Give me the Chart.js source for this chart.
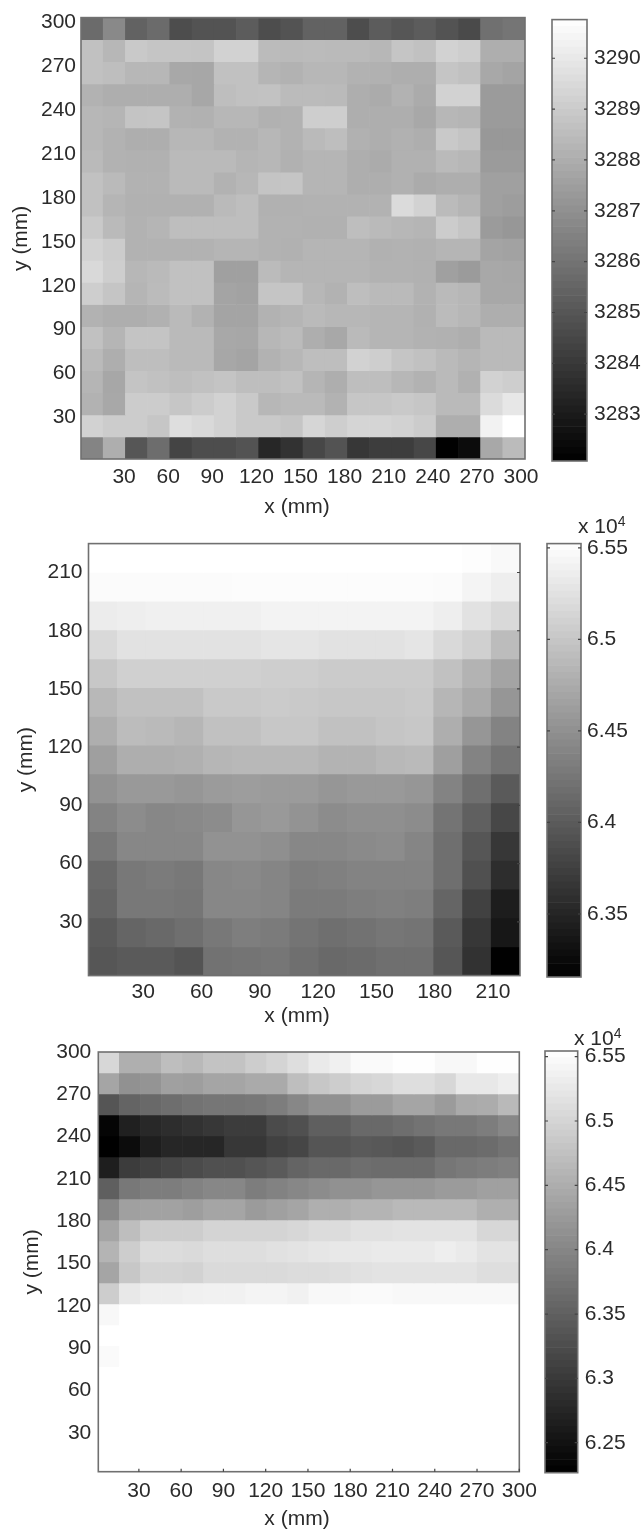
<!DOCTYPE html>
<html>
<head>
<meta charset="utf-8">
<title>Heat maps</title>
<script src="https://cdn.jsdelivr.net/npm/chart.js@4/dist/chart.umd.min.js"></script>
<style>
  html, body { margin: 0; padding: 0; background: #fff; }
  #page { position: relative; width: 644px; height: 1530px; overflow: hidden; }
  canvas { position: absolute; filter: blur(0.5px); }
  .note { position: absolute; font: 21px "Liberation Sans", Arial, sans-serif; color: #2b2b2b; line-height: 24px; white-space: nowrap; filter: blur(0.4px); }
  .note sup { font-size: 14px; line-height: 0; vertical-align: 7px; }
  .xtitle { transform: translateX(-50%); }
</style>
</head>
<body>
<div id="page">
  <canvas id="map1" width="545" height="525" style="left:0;top:0"></canvas>
  <canvas id="bar1" width="104" height="525" style="left:540px;top:0"></canvas>
  <canvas id="map2" width="545" height="505" style="left:0;top:525px"></canvas>
  <canvas id="bar2" width="104" height="505" style="left:540px;top:525px"></canvas>
  <canvas id="map3" width="545" height="500" style="left:0;top:1030px"></canvas>
  <canvas id="bar3" width="104" height="500" style="left:540px;top:1030px"></canvas>
  <div class="note xtitle" style="left:297px;top:494px">x (mm)</div>
  <div class="note xtitle" style="left:297px;top:1003px">x (mm)</div>
  <div class="note xtitle" style="left:297px;top:1506px">x (mm)</div>
  <div class="note" style="left:578px;top:514px">x 10<sup>4</sup></div>
  <div class="note" style="left:574px;top:1026px">x 10<sup>4</sup></div>
</div>
<script>
const xTicks1 = [30, 60, 90, 120, 150, 180, 210, 240, 270, 300];
const yTicks1 = [30, 60, 90, 120, 150, 180, 210, 240, 270, 300];
const barTicks1 = [3283, 3284, 3285, 3286, 3287, 3288, 3289, 3290];

const xTicks2 = [30, 60, 90, 120, 150, 180, 210];
const yTicks2 = [30, 60, 90, 120, 150, 180, 210];
const barTicks2 = [6.35, 6.4, 6.45, 6.5, 6.55];

const xTicks3 = [30, 60, 90, 120, 150, 180, 210, 240, 270, 300];
const yTicks3 = [30, 60, 90, 120, 150, 180, 210, 240, 270, 300];
const barTicks3 = [6.25, 6.3, 6.35, 6.4, 6.45, 6.5, 6.55];

// rows run from the top of the plot down
const cells1 = [
  [3285.3,3286.35,3285.0,3285.3,3284.3,3284.5,3284.5,3284.8,3284.3,3284.5,3285.0,3285.0,3284.3,3284.8,3284.6,3284.8,3284.5,3284.2,3285.5,3285.65],
  [3288.4,3288.05,3288.7,3288.55,3288.55,3288.5,3289.05,3289.05,3288.2,3288.15,3288.2,3288.15,3288.15,3288.05,3288.55,3288.4,3289.05,3288.9,3287.7,3287.7],
  [3288.4,3288.3,3288.05,3288.05,3287.5,3287.45,3288.4,3288.4,3287.95,3287.85,3288.05,3288.05,3287.85,3287.8,3287.7,3287.7,3288.55,3288.4,3287.5,3287.35],
  [3287.85,3287.7,3287.7,3287.7,3287.7,3287.45,3288.3,3288.4,3288.45,3288.2,3288.2,3288.15,3287.7,3287.6,3287.85,3287.6,3289.05,3289.05,3287.0,3287.0],
  [3288.05,3287.95,3288.5,3288.55,3287.85,3287.8,3288.05,3288.05,3287.8,3287.85,3288.9,3288.9,3287.7,3287.7,3287.7,3287.5,3288.05,3287.95,3287.0,3287.0],
  [3288.05,3287.85,3287.7,3287.7,3288.05,3288.05,3287.85,3287.85,3288.05,3287.85,3288.15,3288.3,3287.8,3287.7,3287.8,3287.7,3288.7,3288.5,3286.9,3286.9],
  [3288.15,3287.85,3287.8,3287.8,3288.15,3288.15,3288.15,3287.95,3288.05,3287.8,3287.95,3287.95,3287.7,3287.6,3287.8,3287.8,3288.15,3288.05,3287.0,3287.0],
  [3288.4,3288.15,3287.85,3287.85,3288.15,3288.15,3287.85,3288.05,3288.5,3288.55,3287.95,3287.95,3287.7,3287.7,3287.8,3287.6,3287.7,3287.7,3287.2,3287.2],
  [3288.4,3287.95,3287.8,3287.8,3287.8,3287.8,3288.15,3288.3,3287.8,3287.8,3287.85,3287.85,3287.85,3287.85,3289.4,3289.05,3288.2,3287.95,3287.2,3287.1],
  [3288.7,3288.15,3287.85,3287.95,3288.3,3288.3,3288.3,3288.3,3287.85,3287.85,3287.8,3287.8,3288.3,3288.15,3288.05,3287.95,3288.8,3288.55,3287.0,3286.85],
  [3289.05,3288.8,3287.85,3287.85,3287.85,3287.85,3287.95,3287.95,3287.85,3287.8,3287.95,3287.95,3287.95,3287.8,3287.85,3287.8,3287.95,3287.95,3287.35,3287.25],
  [3289.3,3288.9,3288.05,3288.15,3288.4,3288.4,3287.2,3287.2,3288.2,3287.95,3287.95,3287.95,3287.95,3287.85,3287.85,3287.8,3287.2,3287.0,3287.5,3287.45],
  [3288.9,3288.55,3287.95,3288.2,3288.4,3288.4,3287.35,3287.25,3288.55,3288.55,3288.05,3287.85,3288.3,3288.15,3288.15,3287.85,3288.15,3288.05,3287.5,3287.5],
  [3287.85,3287.7,3287.7,3287.8,3288.15,3287.85,3287.35,3287.35,3287.85,3287.95,3288.15,3288.05,3288.05,3287.95,3287.95,3287.8,3288.2,3288.05,3287.7,3287.7],
  [3288.4,3287.95,3288.5,3288.5,3288.15,3288.15,3287.5,3287.45,3288.05,3288.2,3287.7,3287.5,3288.15,3287.95,3287.95,3287.85,3287.8,3287.7,3288.15,3288.15],
  [3288.15,3287.7,3288.3,3288.3,3288.15,3288.15,3287.45,3287.35,3287.85,3288.05,3288.3,3288.3,3289.05,3288.9,3288.55,3288.4,3288.15,3287.95,3288.15,3288.15],
  [3287.95,3287.45,3288.5,3288.4,3288.3,3288.4,3288.5,3288.3,3288.3,3288.4,3287.95,3287.7,3288.3,3288.3,3288.05,3287.85,3288.15,3287.8,3289.05,3288.9],
  [3287.85,3287.5,3288.8,3288.8,3288.6,3288.8,3289.05,3288.7,3288.05,3288.15,3288.15,3287.85,3288.6,3288.6,3288.7,3288.6,3288.15,3288.15,3289.4,3289.85],
  [3289.05,3288.8,3288.8,3288.6,3289.5,3289.3,3289.05,3288.7,3288.7,3288.55,3289.2,3288.9,3289.15,3289.15,3289.05,3288.8,3287.7,3287.7,3290.25,3290.75],
  [3286.2,3287.7,3284.6,3285.4,3284.0,3284.3,3284.3,3284.5,3283.1,3283.45,3284.1,3284.5,3283.6,3283.8,3283.8,3284.1,3282.1,3282.35,3287.5,3288.2]
];

const cells2 = [
  [6.552,6.552,6.552,6.552,6.552,6.552,6.552,6.552,6.552,6.552,6.552,6.552,6.552,6.550,6.546],
  [6.548,6.548,6.548,6.548,6.548,6.549,6.549,6.549,6.549,6.549,6.549,6.549,6.548,6.541,6.536],
  [6.534,6.536,6.538,6.538,6.538,6.538,6.540,6.540,6.540,6.540,6.540,6.540,6.536,6.524,6.515],
  [6.515,6.524,6.524,6.524,6.524,6.524,6.527,6.527,6.524,6.524,6.524,6.527,6.515,6.506,6.487],
  [6.497,6.506,6.506,6.506,6.506,6.506,6.504,6.504,6.501,6.501,6.501,6.501,6.492,6.478,6.464],
  [6.483,6.492,6.492,6.492,6.499,6.499,6.501,6.499,6.497,6.497,6.497,6.499,6.481,6.469,6.450],
  [6.473,6.487,6.485,6.481,6.492,6.492,6.497,6.497,6.492,6.492,6.495,6.497,6.473,6.450,6.432],
  [6.459,6.473,6.473,6.475,6.481,6.483,6.483,6.483,6.478,6.478,6.483,6.485,6.459,6.432,6.418],
  [6.446,6.453,6.453,6.450,6.455,6.457,6.455,6.455,6.450,6.453,6.453,6.450,6.432,6.413,6.394],
  [6.432,6.441,6.436,6.438,6.441,6.450,6.453,6.447,6.441,6.444,6.444,6.441,6.418,6.399,6.376],
  [6.422,6.436,6.436,6.436,6.446,6.446,6.444,6.436,6.436,6.439,6.441,6.434,6.413,6.390,6.362],
  [6.408,6.422,6.425,6.422,6.436,6.438,6.434,6.427,6.429,6.432,6.432,6.432,6.413,6.385,6.353],
  [6.404,6.422,6.422,6.420,6.436,6.436,6.434,6.425,6.425,6.427,6.429,6.427,6.404,6.371,6.339],
  [6.394,6.404,6.408,6.413,6.422,6.427,6.425,6.418,6.413,6.416,6.420,6.418,6.394,6.362,6.334],
  [6.390,6.394,6.394,6.388,6.416,6.418,6.420,6.413,6.408,6.410,6.413,6.413,6.390,6.357,6.316]
];

const cells3 = [
  [6.503,6.451,6.451,6.471,6.464,6.477,6.477,6.490,6.499,6.512,6.528,6.535,6.548,6.548,6.553,6.553,6.545,6.545,6.553,6.553],
  [6.439,6.413,6.417,6.432,6.430,6.439,6.439,6.445,6.445,6.471,6.483,6.490,6.499,6.503,6.512,6.512,6.503,6.525,6.525,6.532],
  [6.336,6.355,6.361,6.368,6.374,6.378,6.378,6.381,6.387,6.400,6.413,6.413,6.426,6.426,6.439,6.439,6.426,6.445,6.448,6.464],
  [6.233,6.268,6.278,6.284,6.291,6.297,6.304,6.304,6.323,6.329,6.349,6.349,6.361,6.361,6.368,6.374,6.381,6.381,6.387,6.400],
  [6.227,6.242,6.265,6.275,6.275,6.275,6.297,6.297,6.310,6.317,6.336,6.336,6.342,6.340,6.336,6.342,6.361,6.361,6.365,6.374],
  [6.265,6.304,6.310,6.317,6.323,6.329,6.329,6.336,6.342,6.355,6.361,6.361,6.368,6.365,6.365,6.365,6.378,6.383,6.387,6.391],
  [6.349,6.381,6.387,6.387,6.394,6.400,6.400,6.387,6.394,6.400,6.406,6.413,6.413,6.419,6.419,6.419,6.426,6.426,6.432,6.432],
  [6.400,6.432,6.435,6.435,6.430,6.439,6.439,6.426,6.432,6.439,6.451,6.451,6.458,6.458,6.464,6.464,6.464,6.464,6.451,6.451],
  [6.439,6.471,6.490,6.490,6.490,6.499,6.499,6.499,6.499,6.503,6.509,6.509,6.516,6.516,6.519,6.519,6.519,6.519,6.503,6.503],
  [6.458,6.490,6.509,6.509,6.507,6.512,6.512,6.512,6.516,6.519,6.522,6.525,6.525,6.528,6.528,6.528,6.532,6.528,6.519,6.519],
  [6.439,6.483,6.499,6.499,6.496,6.507,6.507,6.507,6.507,6.509,6.509,6.512,6.516,6.519,6.519,6.519,6.519,6.519,6.512,6.512],
  [6.490,6.525,6.532,6.532,6.535,6.537,6.537,6.540,6.540,6.537,6.545,6.545,6.548,6.548,6.545,6.545,6.545,6.545,6.545,6.545],
  [6.545,6.554,6.554,6.554,6.554,6.554,6.554,6.554,6.554,6.554,6.554,6.554,6.554,6.554,6.554,6.554,6.554,6.554,6.554,6.554],
  [6.554,6.554,6.554,6.554,6.554,6.554,6.554,6.554,6.554,6.554,6.554,6.554,6.554,6.554,6.554,6.554,6.554,6.554,6.554,6.554],
  [6.548,6.554,6.554,6.554,6.554,6.554,6.554,6.554,6.554,6.554,6.554,6.554,6.554,6.554,6.554,6.554,6.554,6.554,6.554,6.554],
  [6.554,6.554,6.554,6.554,6.554,6.554,6.554,6.554,6.554,6.554,6.554,6.554,6.554,6.554,6.554,6.554,6.554,6.554,6.554,6.554],
  [6.554,6.554,6.554,6.554,6.554,6.554,6.554,6.554,6.554,6.554,6.554,6.554,6.554,6.554,6.554,6.554,6.554,6.554,6.554,6.554],
  [6.554,6.554,6.554,6.554,6.554,6.554,6.554,6.554,6.554,6.554,6.554,6.554,6.554,6.554,6.554,6.554,6.554,6.554,6.554,6.554],
  [6.554,6.554,6.554,6.554,6.554,6.554,6.554,6.554,6.554,6.554,6.554,6.554,6.554,6.554,6.554,6.554,6.554,6.554,6.554,6.554],
  [6.554,6.554,6.554,6.554,6.554,6.554,6.554,6.554,6.554,6.554,6.554,6.554,6.554,6.554,6.554,6.554,6.554,6.554,6.554,6.554]
];

const FONT = { family: '"Liberation Sans", Arial, sans-serif', size: 21 };
const TEXT = '#2b2b2b';
const FRAME = '#707070';
const BAR_LEVELS = 64; // bands in the colour bar

function grey(v, range, gamma = 1) {
  const t = Math.max(0, Math.min(1, (v - range[0]) / (range[1] - range[0])));
  const g = Math.round(Math.pow(t, gamma) * 255);
  return `rgb(${g},${g},${g})`;
}

// frame round the plot and the short inward ticks
const framePlugin = {
  id: 'frame',
  afterDraw(chart, args, opts) {
    const { ctx, chartArea: a, scales } = chart;
    ctx.save();
    ctx.strokeStyle = FRAME;
    ctx.lineWidth = 1.6;
    ctx.strokeRect(a.left, a.top, a.right - a.left, a.bottom - a.top);
    ctx.lineWidth = 1.2;
    ctx.strokeStyle = '#444';
    ctx.beginPath();
    (opts.bottom || []).forEach(v => {
      const px = scales.x.getPixelForValue(v);
      ctx.moveTo(px, a.bottom);
      ctx.lineTo(px, a.bottom - 3);
    });
    (opts.right || []).forEach(v => {
      const py = scales.y.getPixelForValue(v);
      ctx.moveTo(a.right, py);
      ctx.lineTo(a.right - 3, py);
    });
    (opts.left || []).forEach(v => {
      const py = scales.y.getPixelForValue(v);
      ctx.moveTo(a.left, py);
      ctx.lineTo(a.left + 3, py);
    });
    ctx.stroke();
    ctx.restore();
  }
};

function drawMap(id, p) {
  const canvas = document.getElementById(id);
  const rows = p.cells.length;
  const step = (p.yRange[1] - p.yRange[0]) / rows;
  const labels = p.cells[0].map((_, i) => i);
  const datasets = p.cells.map((row, r) => {
    const hi = p.yRange[1] - r * step;
    return {
      data: row.map(() => [hi - step, hi]),
      backgroundColor: row.map(v => grey(v, p.range, p.gamma)),
      xAxisID: 'col',
      yAxisID: 'y',
      grouped: false,
      borderWidth: 0,
      barPercentage: 1,
      categoryPercentage: 1
    };
  });
  new Chart(canvas, {
    type: 'bar',
    data: { labels, datasets },
    plugins: [framePlugin],
    options: {
      responsive: false,
      animation: false,
      layout: { padding: { left: 0, top: p.box.top, right: canvas.width - p.box.right, bottom: 0 } },
      plugins: {
        legend: { display: false },
        tooltip: { enabled: false },
        frame: p.marks || {}
      },
      scales: {
        col: { type: 'category', axis: 'x', display: false, offset: true },
        x: {
          type: 'linear', position: 'bottom', offset: false,
          min: p.xRange[0], max: p.xRange[1],
          afterBuildTicks: s => { s.ticks = p.xTicks.map(value => ({ value })); },
          afterFit: s => { s.height = canvas.height - p.box.bottom; },
          grid: { display: false, drawTicks: false }, border: { display: false },
          ticks: { font: FONT, color: TEXT, padding: p.xPad, maxRotation: 0, autoSkip: false }
        },
        y: {
          type: 'linear', position: 'left',
          min: p.yRange[0], max: p.yRange[1],
          afterBuildTicks: s => { s.ticks = p.yTicks.map(value => ({ value })); },
          afterFit: s => { s.width = p.box.left; },
          grid: { display: false, drawTicks: false }, border: { display: false },
          ticks: { font: FONT, color: TEXT, padding: p.yPad, autoSkip: false },
          title: { display: true, text: 'y (mm)', font: FONT, color: TEXT, padding: { top: p.yTitlePad, bottom: 0 } }
        }
      }
    }
  });
}

function drawBar(id, p) {
  const canvas = document.getElementById(id);
  const step = (p.range[1] - p.range[0]) / BAR_LEVELS;
  const datasets = [];
  for (let i = 0; i < BAR_LEVELS; i++) {
    const lo = p.range[0] + i * step;
    datasets.push({
      data: [[lo, lo + step]],
      backgroundColor: grey(lo + step / 2, p.range),
      xAxisID: 'col',
      yAxisID: 'y',
      grouped: false,
      borderWidth: 0,
      barPercentage: 1,
      categoryPercentage: 1
    });
  }
  new Chart(canvas, {
    type: 'bar',
    data: { labels: [''], datasets },
    plugins: [framePlugin],
    options: {
      responsive: false,
      animation: false,
      layout: { padding: { left: p.box.left, top: p.box.top, right: 0, bottom: canvas.height - p.box.bottom } },
      plugins: {
        legend: { display: false },
        tooltip: { enabled: false },
        frame: { left: p.ticks, right: p.ticks }
      },
      scales: {
        col: { type: 'category', axis: 'x', display: false, offset: true },
        y: {
          type: 'linear', position: 'right',
          min: p.range[0], max: p.range[1],
          afterBuildTicks: s => { s.ticks = p.ticks.map(value => ({ value })); },
          afterFit: s => { s.width = canvas.width - p.box.right; },
          grid: { display: false, drawTicks: false }, border: { display: false },
          ticks: { font: FONT, color: TEXT, padding: p.pad, autoSkip: false, callback: v => String(v) }
        }
      }
    }
  });
}

drawMap('map1', {
  cells: cells1, range: [3282.08, 3290.76], gamma: 0.88, xTicks: xTicks1, yTicks: yTicks1,
  xRange: [0.7, 302.7], yRange: [1.5, 303.4],
  box: { left: 81, right: 525, top: 16, bottom: 459 },
  xPad: 6, yPad: 5, yTitlePad: 9
});
drawBar('bar1', {
  range: [3282.08, 3290.76], ticks: barTicks1,
  box: { left: 12, right: 47, top: 16, bottom: 461 }, pad: 7
});

drawMap('map2', {
  cells: cells2, range: [6.3156, 6.5523], gamma: 0.94, xTicks: xTicks2, yTicks: yTicks2,
  xRange: [1.8, 223.9], yRange: [2.3, 224.9],
  box: { left: 88.5, right: 520, top: 18, bottom: 450.6 },
  marks: { right: yTicks2 },
  xPad: 4, yPad: 6, yTitlePad: 14
});
drawBar('bar2', {
  range: [6.3156, 6.5523], ticks: barTicks2,
  box: { left: 7, right: 41, top: 18, bottom: 452 }, pad: 6
});

drawMap('map3', {
  cells: cells3, range: [6.2267, 6.5544], gamma: 1, xTicks: xTicks3, yTicks: yTicks3,
  xRange: [1.2, 300], yRange: [2.5, 300],
  box: { left: 98.3, right: 519.3, top: 22, bottom: 441.7 },
  marks: { bottom: xTicks3 },
  xPad: 7, yPad: 7, yTitlePad: 20
});
drawBar('bar3', {
  range: [6.2267, 6.5544], ticks: barTicks3,
  box: { left: 5, right: 37.7, top: 21, bottom: 442.7 }, pad: 7
});
</script>
</body>
</html>
